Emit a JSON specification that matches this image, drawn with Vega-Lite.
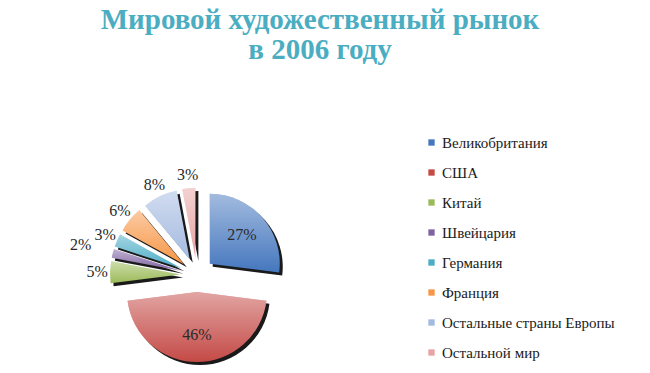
{
  "$schema": "https://vega.github.io/schema/vega-lite/v6.json",
  "autosize": "none",
  "width": 200,
  "height": 198,
  "padding": {"left": 97, "top": 176, "right": 353, "bottom": 0},
  "background": "white",
  "title": {
    "text": ["Мировой художественный рынок", "в 2006 году"],
    "font": "Liberation Serif",
    "fontSize": 29,
    "fontWeight": "bold",
    "color": "#4BADC1",
    "anchor": "middle",
    "dx": 123,
    "offset": 70,
    "lineHeight": 30
  },
  "config": {
    "view": {"stroke": null},
    "legend": {
      "orient": "none",
      "legendX": 327,
      "legendY": -41,
      "title": null,
      "symbolType": "square",
      "symbolSize": 40,
      "symbolStrokeWidth": 0,
      "labelFont": "Liberation Serif",
      "labelFontSize": 15,
      "labelColor": "#1a1a1a",
      "labelOffset": 3,
      "rowPadding": 14,
      "padding": 0,
      "labelLimit": 300
    }
  },
  "data": {
    "values": [
      {"country": "Великобритания", "share": 0.27, "n": 1},
      {"country": "США", "share": 0.46, "n": 2},
      {"country": "Китай", "share": 0.05, "n": 3},
      {"country": "Швейцария", "share": 0.02, "n": 4},
      {"country": "Германия", "share": 0.03, "n": 5},
      {"country": "Франция", "share": 0.06, "n": 6},
      {"country": "Остальные страны Европы", "share": 0.08, "n": 7},
      {"country": "Остальной мир", "share": 0.03, "n": 8}
    ]
  },
  "encoding": {
    "theta": {"field": "share", "type": "quantitative", "stack": true},
    "order": {"field": "n", "type": "quantitative"}
  },
  "layer": [
    {
      "mark": {
        "type": "arc",
        "radius": 70,
        "fill": "#1a1a1a",
        "xOffset": {"expr": "17*sin(scale('theta',(datum.share_start+datum.share_end)/2))+3"},
        "yOffset": {"expr": "-17*cos(scale('theta',(datum.share_start+datum.share_end)/2))+3"}
      }
    },
    {
      "mark": {
        "type": "arc",
        "radius": 70,
        "xOffset": {"expr": "17*sin(scale('theta',(datum.share_start+datum.share_end)/2))"},
        "yOffset": {"expr": "-17*cos(scale('theta',(datum.share_start+datum.share_end)/2))"}
      },
      "encoding": {
        "color": {
          "field": "country",
          "type": "nominal",
          "sort": null,
          "scale": {
            "domain": ["Великобритания", "США", "Китай", "Швейцария", "Германия", "Франция", "Остальные страны Европы", "Остальной мир"],
            "range": ["#4577BE", "#C44A46", "#9BBB59", "#8064A2", "#4BACC6", "#F79646", "#A3BAE0", "#E8A3A3"]
          }
        }
      }
    },
    {
      "mark": {
        "type": "arc",
        "radius": 70,
        "fill": {
          "gradient": "linear",
          "x1": 0, "y1": 0, "x2": 0, "y2": 1,
          "stops": [
            {"offset": 0, "color": "rgba(255,255,255,0.5)"},
            {"offset": 1, "color": "rgba(255,255,255,0)"}
          ]
        },
        "xOffset": {"expr": "17*sin(scale('theta',(datum.share_start+datum.share_end)/2))"},
        "yOffset": {"expr": "-17*cos(scale('theta',(datum.share_start+datum.share_end)/2))"}
      }
    },
    {
      "mark": {
        "type": "text",
        "font": "Liberation Serif",
        "fontSize": 16,
        "color": "#2a2a2a",
        "radius": {"expr": "datum.share > 0.1 ? 60 : (datum.share < 0.025 ? 120 : 100)"}
      },
      "encoding": {
        "text": {"field": "share", "type": "quantitative", "format": ".0%"}
      }
    }
  ]
}
